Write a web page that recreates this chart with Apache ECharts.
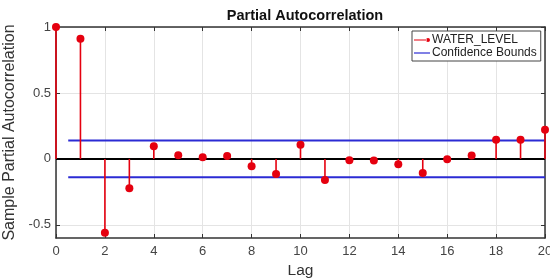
<!DOCTYPE html>
<html>
<head>
    <meta charset="utf-8">
    <script src="https://cdn.jsdelivr.net/npm/echarts@6/dist/echarts.min.js"></script>
    <style>
        html, body { margin: 0; padding: 0; background: #fff; }
    </style>
</head>
<body>
    <div id="main" style="width: 550px;height:280px;"></div>
</body>
</html>

<script type="text/javascript">
// lags and sample partial autocorrelation values
var lags = [0, 1, 2, 3, 4, 5, 6, 7, 8, 9, 10, 11, 12, 13, 14, 15, 16, 17, 18, 19, 20];
var pacf = [1, 0.91, -0.56, -0.223, 0.095, 0.027, 0.012, 0.022, -0.055, -0.115, 0.107,
            -0.16, -0.01, -0.012, -0.04, -0.108, -0.003, 0.025, 0.145, 0.145, 0.22];
var bound = 0.14;
var boundLags = [0.5, 20];
var yTicks = [-0.5, 0, 0.5, 1];

var RED = '#e5000f';
var BLUE = '#2b2bd4';
var AXIS = '#333333';

var stemData = lags.map(function (l, i) { return [l, pacf[i]]; });

var myChart = echarts.init(document.getElementById('main'));

var option = {
    animation: false,
    textStyle: { fontFamily: 'Liberation Sans, Arial, sans-serif' },
    title: {
        text: 'Partial Autocorrelation',
        left: 300,
        textAlign: 'center',
        top: 3,
        textStyle: { fontSize: 14.5, fontWeight: 'bold', color: '#111' }
    },
    legend: {
        orient: 'vertical',
        left: 412,
        top: 31,
        padding: [3, 4, 2, 2],
        itemGap: 1,
        itemWidth: 16,
        itemHeight: 6,
        borderColor: '#444',
        borderWidth: 1,
        backgroundColor: '#fff',
        textStyle: { fontSize: 12, color: '#222', padding: [0, 0, 0, -3] },
        data: [
            { name: 'WATER_LEVEL', icon: 'path://M0,2.6H13V3.4H0Z M12,3a2,2 0 1,0 4,0a2,2 0 1,0 -4,0Z' },
            { name: 'Confidence Bounds', icon: 'path://M0,0H16V1.2H0Z' }
        ]
    },
    grid: { left: 56, right: 5, top: 27, bottom: 42, outerBoundsMode: 'none', containLabel: false },
    xAxis: [
        {
            type: 'value', min: 0, max: 20, interval: 2,
            name: 'Lag', nameLocation: 'middle', nameGap: 23,
            nameTextStyle: { fontSize: 15.5, color: '#333' },
            axisLine: { onZero: false, lineStyle: { color: AXIS, width: 1.5 } },
            axisTick: { inside: true, length: 4, lineStyle: { color: AXIS } },
            axisLabel: { fontSize: 13, color: '#444', margin: 7 },
            splitLine: { show: true, lineStyle: { color: '#e4e4e4', width: 1 } }
        },
        {
            type: 'value', min: 0, max: 20, interval: 2, position: 'top',
            axisLine: { onZero: false, lineStyle: { color: AXIS, width: 1.5 } },
            axisTick: { inside: true, length: 4, lineStyle: { color: AXIS } },
            axisLabel: { show: false },
            splitLine: { show: false }
        }
    ],
    yAxis: [
        {
            type: 'value', min: -0.6, max: 1,
            name: 'Sample Partial Autocorrelation', nameLocation: 'middle', nameGap: 29,
            nameTextStyle: { fontSize: 16, color: '#333' },
            axisLine: { show: true, onZero: false, lineStyle: { color: AXIS, width: 1.5 } },
            axisTick: { show: true, inside: true, length: 4, customValues: yTicks, lineStyle: { color: AXIS } },
            axisLabel: { fontSize: 13, color: '#444', margin: 5, customValues: yTicks },
            splitLine: { show: true, lineStyle: { color: '#e4e4e4', width: 1 } }
        },
        {
            type: 'value', min: -0.6, max: 1, position: 'right',
            axisLine: { show: true, onZero: false, lineStyle: { color: AXIS, width: 1.5 } },
            axisTick: { show: true, inside: true, length: 4, customValues: yTicks, lineStyle: { color: AXIS } },
            axisLabel: { show: false },
            splitLine: { show: false }
        }
    ],
    series: [
        {
            name: 'zero',
            type: 'line',
            data: [[0, 0], [20, 0]],
            symbol: 'none',
            silent: true,
            lineStyle: { color: '#000', width: 2 },
            z: 2
        },
        {
            name: 'Confidence Bounds',
            type: 'line',
            data: boundLags.map(function (l) { return [l, bound]; }),
            symbol: 'none',
            color: BLUE,
            lineStyle: { color: BLUE, width: 2 },
            z: 3
        },
        {
            name: 'Confidence Bounds',
            type: 'line',
            data: boundLags.map(function (l) { return [l, -bound]; }),
            symbol: 'none',
            color: BLUE,
            lineStyle: { color: BLUE, width: 2 },
            z: 3
        },
        {
            name: 'WATER_LEVEL',
            type: 'custom',
            color: RED,
            clip: false,
            z: 4,
            data: stemData,
            renderItem: function (params, api) {
                var base = api.coord([api.value(0), 0]);
                var top = api.coord([api.value(0), api.value(1)]);
                return {
                    type: 'group',
                    children: [
                        {
                            type: 'line',
                            shape: { x1: base[0], y1: base[1], x2: top[0], y2: top[1] },
                            style: { stroke: RED, lineWidth: 1.6 }
                        },
                        {
                            type: 'circle',
                            shape: { cx: top[0], cy: top[1], r: 4 },
                            style: { fill: RED }
                        }
                    ]
                };
            }
        }
    ]
};

myChart.setOption(option);
</script>
